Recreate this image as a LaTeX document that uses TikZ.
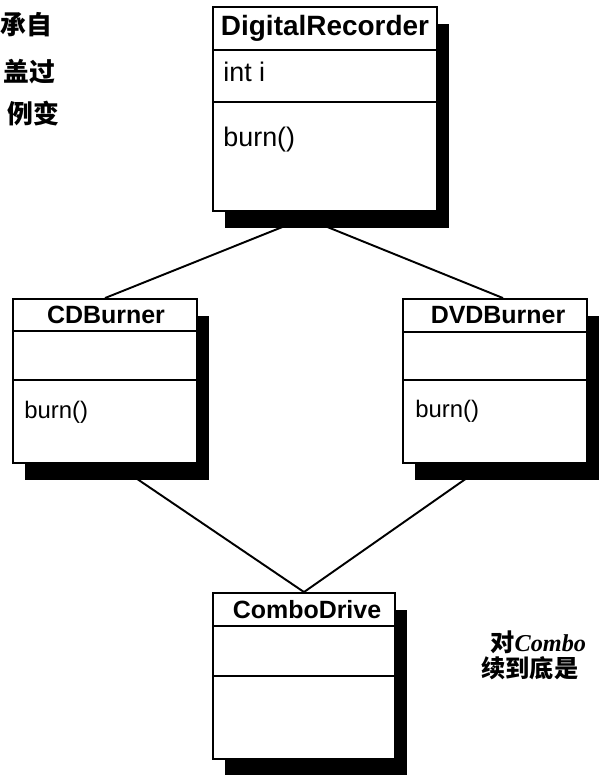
\documentclass[tikz,border=0pt]{standalone}
\usepackage{fontspec}
\setmainfont{Liberation Sans}
\newfontfamily\cjk{Noto Sans CJK SC}
\newfontfamily\noteserif{Liberation Serif}
\usetikzlibrary{calc,shadows,backgrounds}

\begin{document}
\begin{tikzpicture}[x=.02cm,y=-.02cm,
  cls/.style={draw,line width=1.1pt,fill=white,inner sep=0pt,
    drop shadow={shadow xshift=.24cm,shadow yshift=-.34cm,fill=black,opacity=1}},
  bigbox/.style={cls,minimum width=4.48cm,minimum height=4.08cm},
  smallbox/.style={cls,minimum width=3.68cm,minimum height=3.28cm},
  bigtitle/.style={font=\bfseries\fontsize{15.9}{18}\selectfont,inner sep=0pt},
  title/.style={font=\bfseries\fontsize{14.2}{17}\selectfont,inner sep=0pt},
  bigmember/.style={font=\fontsize{15.3}{18}\selectfont,anchor=west,inner sep=0pt},
  member/.style={font=\fontsize{13.6}{16}\selectfont,anchor=west,inner sep=0pt},
  divider/.style={line width=.9pt},
  link/.style={line width=1.1pt},
  note/.style={font=\cjk\bfseries\fontsize{14.7}{16}\selectfont,anchor=west,inner sep=0pt},
  smallnote/.style={note,font=\cjk\bfseries\fontsize{13.8}{16}\selectfont}]
\useasboundingbox (0,0) rectangle (599,775);
\node[bigbox] (DR) at (325,109) {};
\node[smallbox] (CD) at (105,381) {};
\node[smallbox] (DVD) at (495,381) {};
\node[smallbox,minimum width=3.64cm,minimum height=3.32cm] (CB) at (304,676) {};
\foreach \n/\a/\b in {DR/44/96,CD/33/82,DVD/34/82,CB/34/84}{
  \draw[divider] ($(\n.north west)+(0,\a)$) -- ($(\n.north east)+(0,\a)$);
  \draw[divider] ($(\n.north west)+(0,\b)$) -- ($(\n.north east)+(0,\b)$);
}
\node[bigtitle] (DRname) at ($(DR.north)+(0,22)$) {DigitalRecorder};
\node[title] (CDname) at ($(CD.north)+(1,17)$) {CDBurner};
\node[title] (DVDname) at ($(DVD.north)+(3,17)$) {DVDBurner};
\node[title] (CBname) at ($(CB.north)+(3,18)$) {ComboDrive};
\node[bigmember] (DRattr) at ($(DR.north west)+(11,66)$) {int i};
\node[bigmember] (DRop) at ($(DR.north west)+(11,133)$) {burn()};
\node[member] (CDop) at ($(CD.north west)+(12,114)$) {burn()};
\node[member] (DVDop) at ($(DVD.north west)+(13,113)$) {burn()};
% links go under the shadows
\begin{pgfonlayer}{background}
  \coordinate (apex) at ($(DR.south)+(-20,6)$);
  \draw[link] (apex) -- (CD.north) (apex) -- ($(DVD.north)+(8,0)$);
  \draw[link] ($(CD.south)+(10,0)$) -- (CB.north)
    ($(DVD.south)+(-8,0)$) -- (CB.north);
\end{pgfonlayer}
% handwritten notes
\node[note] (n1) at (0,25) {承自};
\node[note] (n2) at (3,72) {盖过};
\node[note] (n3) at (7,114) {例变};
\node[smallnote] (n4) at (490,642) {对{\noteserif\itshape Combo}};
\node[smallnote] (n5) at (481,668) {续到底是};
\end{tikzpicture}
\end{document}
